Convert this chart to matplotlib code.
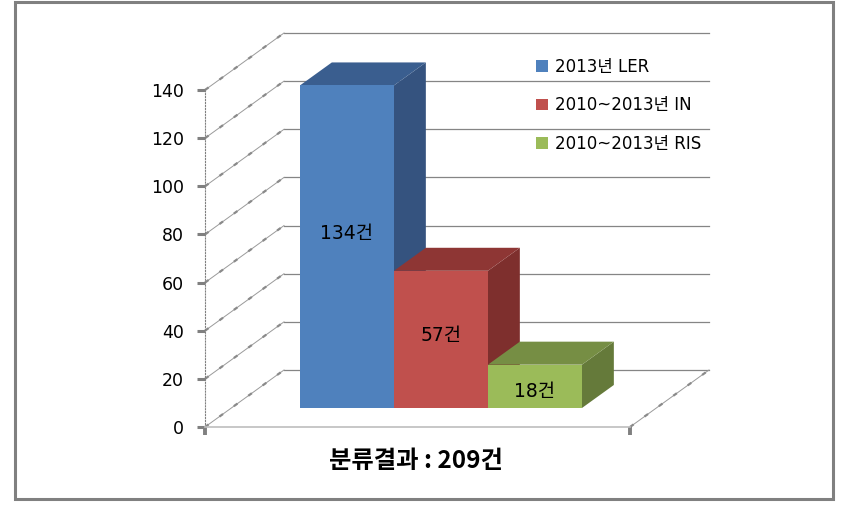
import matplotlib
matplotlib.use('Agg')
import matplotlib.pyplot as plt
from matplotlib.patches import Polygon, Patch, Rectangle

plt.rcParams['font.family'] = ['DejaVu Sans', 'Noto Sans CJK KR']

series = ['2013년 LER', '2010~2013년 IN', '2010~2013년 RIS']
values = [134, 57, 18]
value_labels = ['134건', '57건', '18건']
y_ticks = [0, 20, 40, 60, 80, 100, 120, 140]
xlabel = '분류결과 : 209건'

front_colors = ['#4F81BD', '#C0504D', '#9BBB59']
side_colors = ['#35537F', '#7E2F2D', '#657A3A']
top_colors = ['#3A5E8F', '#8E3634', '#768E44']

W, H = 853, 511
left, right, bottom, top = 205, 630, 427, 90
bar_px = 94.0
px_per_val = (bottom - top) / 140.0
xmax = (right - left) / bar_px
depth_dx = 79 / bar_px
depth_dy = 57 / px_per_val
bar_start = 0.73
bar_front = 1 / 3
bar_back = 0.737


def proj(x, y, d):
    # oblique projection, d=0 front of the floor, d=1 back wall
    return x + d * depth_dx, y + d * depth_dy


fig = plt.figure(figsize=(W / 100, H / 100), dpi=100)
fig.patches.append(Rectangle((15 / W, 1 - 499 / H), 818 / W, 497 / H, transform=fig.transFigure,
                             fill=False, ec='#808080', lw=2.2))
ax = fig.add_axes([left / W, 1 - bottom / H, (right - left) / W, (bottom - top) / H])
ax.set_xlim(0, xmax)
ax.set_ylim(0, 140)
ax.patch.set_visible(False)
for s in ['top', 'right']:
    ax.spines[s].set_visible(False)
ax.spines['left'].set_linestyle(':')
ax.spines['left'].set_color('#808080')
ax.spines['left'].set_linewidth(0.8)
ax.spines['bottom'].set_color('#BEBEBE')
ax.spines['bottom'].set_linewidth(1.2)
ax.set_yticks(y_ticks)
ax.tick_params(axis='y', length=6, width=2.2, color='#808080', labelsize=12.5, pad=9, labelcolor='black')
ax.set_xticks([0, xmax])
ax.set_xticklabels([])
ax.tick_params(axis='x', length=6, width=2.8, color='#808080')

# back wall and side wall grid
for v in y_ticks:
    x0, y0 = proj(0, v, 0)
    x1, y1 = proj(0, v, 1)
    x2, y2 = proj(xmax, v, 1)
    ax.plot([x1, x2], [y1, y2], color='#858585', lw=0.9, clip_on=False, zorder=1)
    ax.plot([x0, x1], [y0, y1], color='#9A9A9A', lw=0.7, clip_on=False, zorder=1)
    ax.plot([x0, x1], [y0, y1], color='#8A8A8A', lw=1.6, ls=(0, (2, 6)), clip_on=False, zorder=1)
xa, ya = proj(xmax, 0, 0)
xb, yb = proj(xmax, 0, 1)
ax.plot([xa, xb], [ya, yb], color='#9A9A9A', lw=0.7, clip_on=False, zorder=1)
ax.plot([xa, xb], [ya, yb], color='#8A8A8A', lw=1.6, ls=(0, (2, 6)), clip_on=False, zorder=1)

# bars
for i, v in enumerate(values):
    xl, xr = bar_start + i, bar_start + i + 1
    front = [proj(xl, 0, bar_front), proj(xr, 0, bar_front), proj(xr, v, bar_front), proj(xl, v, bar_front)]
    side = [proj(xr, 0, bar_front), proj(xr, 0, bar_back), proj(xr, v, bar_back), proj(xr, v, bar_front)]
    roof = [proj(xl, v, bar_front), proj(xr, v, bar_front), proj(xr, v, bar_back), proj(xl, v, bar_back)]
    ax.add_patch(Polygon(side, fc=side_colors[i], ec='none', clip_on=False, zorder=3 + i))
    ax.add_patch(Polygon(roof, fc=top_colors[i], ec='none', clip_on=False, zorder=3 + i))
    ax.add_patch(Polygon(front, fc=front_colors[i], ec='none', clip_on=False, zorder=3 + i))

label_heights = [72.7, 30.3, 7]
for i, lab in enumerate(value_labels):
    lx, ly = proj(bar_start + i + 0.5, label_heights[i], bar_front)
    ax.text(lx, ly, lab, ha='center', va='center', fontsize=13.5, color='black', zorder=10)

handles = [Patch(fc=c, ec='none') for c in front_colors]
fig.legend(handles, series, loc='upper left', bbox_to_anchor=(531 / W, 1 - 53 / H), frameon=False,
           fontsize=12, handlelength=0.75, handleheight=0.7, handletextpad=0.42, labelspacing=1.22,
           borderpad=0.3, borderaxespad=0)

fig.text(416 / W, 1 - 461 / H, xlabel, ha='center', va='center', fontsize=17.5, fontweight='bold',
         family=['Noto Sans CJK KR', 'DejaVu Sans'])

plt.savefig('out.png', dpi=100)
